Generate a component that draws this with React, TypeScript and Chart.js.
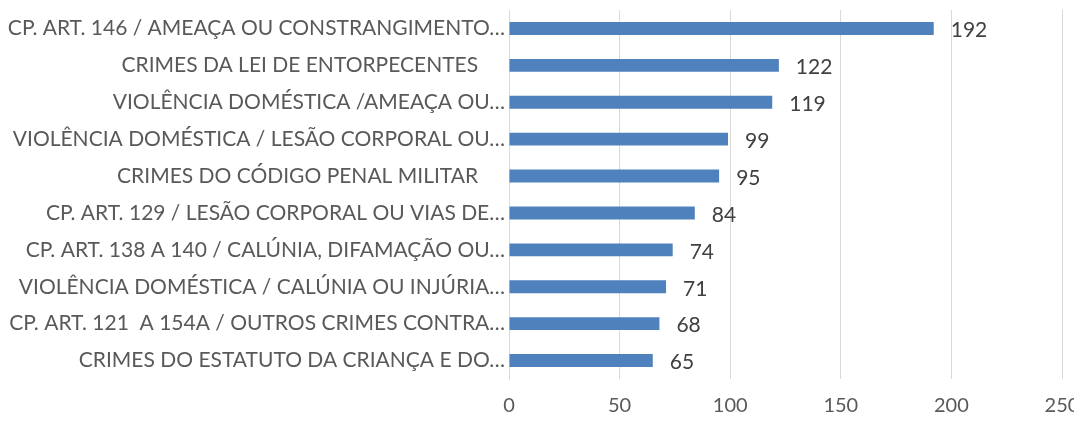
import React, { useEffect, useRef } from "react";
import { Chart, registerables } from "chart.js";

Chart.register(...registerables);

const categories: string[] = [
  "CP. ART. 146 / AMEAÇA OU CONSTRANGIMENTO…",
  "CRIMES DA LEI DE ENTORPECENTES     ",
  "VIOLÊNCIA DOMÉSTICA /AMEAÇA OU…",
  "VIOLÊNCIA DOMÉSTICA / LESÃO CORPORAL OU…",
  "CRIMES DO CÓDIGO PENAL MILITAR     ",
  "CP. ART. 129 / LESÃO CORPORAL OU VIAS DE…",
  "CP. ART. 138 A 140 / CALÚNIA, DIFAMAÇÃO OU…",
  "VIOLÊNCIA DOMÉSTICA / CALÚNIA OU INJÚRIA…",
  "CP. ART. 121  A 154A / OUTROS CRIMES CONTRA…",
  "CRIMES DO ESTATUTO DA CRIANÇA E DO…",
];

const values: number[] = [192, 122, 119, 99, 95, 84, 74, 71, 68, 65];

const xTicks: number[] = [0, 50, 100, 150, 200, 250];

const FONT = "Lato, 'Open Sans', sans-serif";

const valueLabels = {
  id: "valueLabels",
  afterDatasetsDraw(chart: any) {
    const ctx = chart.ctx;
    const meta = chart.getDatasetMeta(0);
    ctx.save();
    ctx.font = `21px ${FONT}`;
    ctx.fillStyle = "#404040";
    ctx.textAlign = "left";
    ctx.textBaseline = "middle";
    meta.data.forEach((bar: any, i: number) => {
      ctx.fillText(String(values[i]), bar.x + 17, bar.y + 2);
    });
    ctx.restore();
  },
};

export default function App() {
  const ref = useRef<HTMLCanvasElement | null>(null);
  useEffect(() => {
    if (!ref.current) return;
    const chart = new Chart(ref.current, {
      type: "bar",
      data: {
        labels: categories,
        datasets: [
          {
            data: values,
            backgroundColor: "#4F81BD",
            borderWidth: 0,
            barPercentage: 0.35,
            categoryPercentage: 1,
          },
        ],
      },
      options: {
        indexAxis: "y",
        animation: false,
        responsive: false,
        maintainAspectRatio: false,
        layout: { padding: { top: 10, right: 20, left: 0, bottom: 0 } },
        plugins: {
          legend: { display: false },
          tooltip: { enabled: false },
        },
        scales: {
          x: {
            min: 0,
            max: 250,
            afterBuildTicks: (scale: any) => {
              scale.ticks = xTicks.map((v) => ({ value: v }));
            },
            afterFit: (scale: any) => {
              scale.height = 42;
              scale.paddingLeft = 0;
              scale.paddingRight = 0;
            },
            grid: { color: "#D9D9D9", lineWidth: 1, drawTicks: false },
            border: { display: false },
            ticks: {
              padding: 15,
              color: "#595959",
              font: { family: FONT, size: 20 },
            },
          },
          y: {
            afterFit: (scale: any) => {
              scale.width = 509;
              scale.paddingTop = 0;
              scale.paddingBottom = 0;
            },
            grid: { display: false, drawTicks: false },
            border: { display: true, color: "#D9D9D9", width: 1 },
            ticks: {
              padding: 4,
              color: "#595959",
              autoSkip: false,
              font: { family: FONT, size: 21 },
            },
          },
        },
      },
      plugins: [valueLabels],
    });
    return () => chart.destroy();
  }, []);
  return (
    <div style={{ margin: -8 }}>
      <canvas ref={ref} width={1082} height={421} style={{ display: "block" }} />
    </div>
  );
}
